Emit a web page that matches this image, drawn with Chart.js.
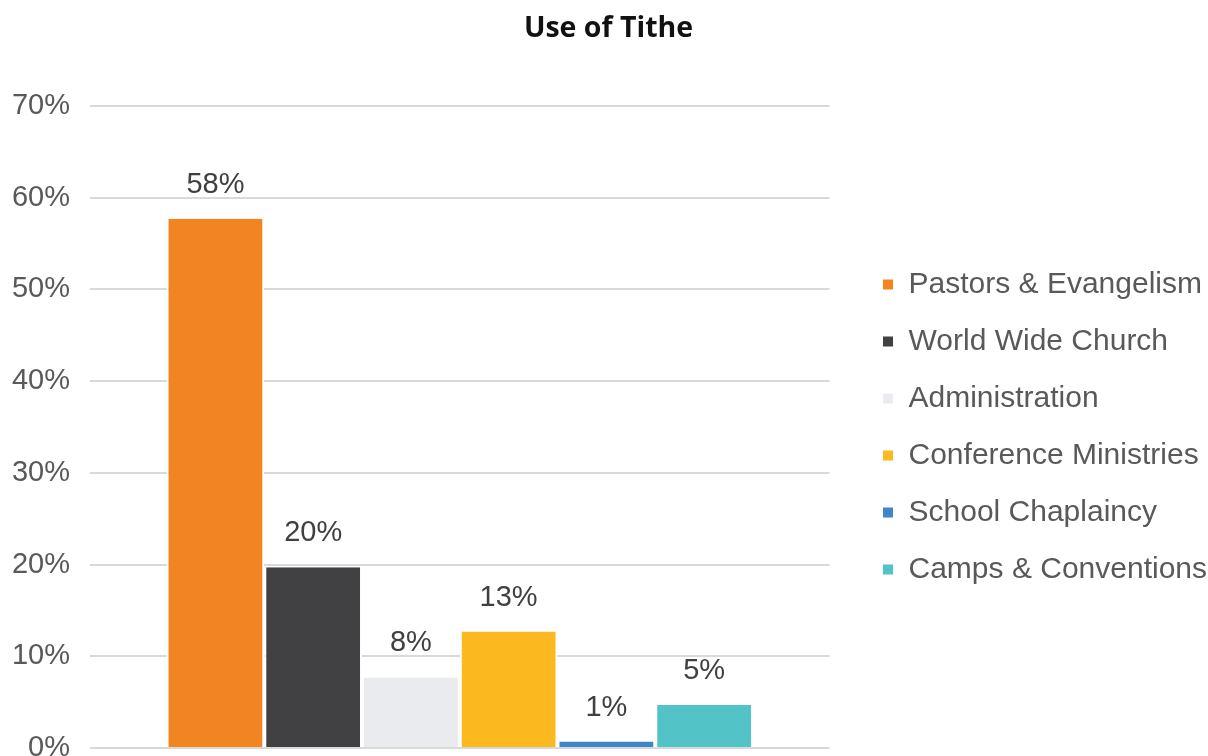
<!DOCTYPE html>
<html>
<head>
<meta charset="utf-8">
<script src="https://cdn.jsdelivr.net/npm/chart.js@4"></script>
<style>
  html, body { margin: 0; padding: 0; background: #fff; }
  #wrap { width: 1208px; height: 756px; position: relative; }
</style>
</head>
<body>
<div id="wrap"><canvas id="chart"></canvas></div>
<script>
/* ── Data ─────────────────────────────────── */
const CATEGORY = [''];
const SERIES   = ['Pastors & Evangelism', 'World Wide Church', 'Administration',
                  'Conference Ministries', 'School Chaplaincy', 'Camps & Conventions'];
const VALUES   = [57.7, 19.7, 7.7, 12.7, 0.7, 4.7];
const COLORS   = ['#F38422', '#414143', '#EAEBEF', '#FBB91F', '#3F86C8', '#52C4C7'];
const Y_TICKS  = [0, 10, 20, 30, 40, 50, 60, 70];

/* ── Value labels above the bars ──────────── */
const barLabels = {
  id: 'barLabels',
  afterDatasetsDraw(chart) {
    const ctx = chart.ctx;
    ctx.save();
    ctx.fillStyle = '#404040';
    ctx.font = '29px "Liberation Sans", Arial, sans-serif';
    ctx.textAlign = 'center';
    ctx.textBaseline = 'middle';
    chart.data.datasets.forEach((ds, i) => {
      const bar = chart.getDatasetMeta(i).data[0];
      if (!bar) return;
      ctx.fillText(Math.round(ds.data[0]) + '%', bar.x, bar.y - 34);
    });
    ctx.restore();
  }
};

const datasets = SERIES.map((name, i) => ({
  label: name,
  data: [VALUES[i]],
  backgroundColor: COLORS[i],
  borderColor: '#ffffff',
  borderWidth: { top: 0, left: 2, right: 2, bottom: 0 },
  borderSkipped: 'bottom',
  categoryPercentage: 0.793,
  barPercentage: 1,
}));

new Chart(document.getElementById('chart'), {
  type: 'bar',
  data: { labels: CATEGORY, datasets },
  options: {
    responsive: true, maintainAspectRatio: false,
    animation: false,
    layout: { padding: { top: 0, bottom: 8, left: 0, right: -9 } },
    plugins: {
      tooltip: { enabled: false },
      title: {
        display: true,
        text: 'Use of Tithe',
        color: '#111111',
        font: { family: '"Open Sans", sans-serif', size: 28.5, weight: 'bold' },
        padding: { top: 12, bottom: 59.8 },
      },
      legend: {
        position: 'right',
        fullSize: false,
        maxWidth: 420,
        labels: {
          color: '#595959',
          font: { family: '"Liberation Sans", Arial, sans-serif', size: 30 },
          boxWidth: 11, boxHeight: 11,
          padding: 27,
        },
      },
    },
    scales: {
      x: { display: false },
      y: {
        min: 0, max: 70,
        afterBuildTicks: s => { s.ticks = Y_TICKS.map(v => ({ value: v })); },
        afterFit: s => { s.width = 90; s.paddingTop = 0; s.paddingBottom = 0; },
        ticks: {
          color: '#595959',
          padding: 20,
          font: { family: '"Liberation Sans", Arial, sans-serif', size: 29 },
          callback: v => v + '%',
        },
        grid: { color: '#D9D9D9', lineWidth: 2, drawTicks: false },
        border: { display: false },
      },
      y2: {
        position: 'right',
        display: true,
        ticks: { display: false },
        grid: { display: false },
        border: { display: false },
        afterFit: s => { s.width = 26; s.paddingTop = 0; s.paddingBottom = 0; },
      },
    },
  },
  plugins: [barLabels],
});
</script>
</body>
</html>
